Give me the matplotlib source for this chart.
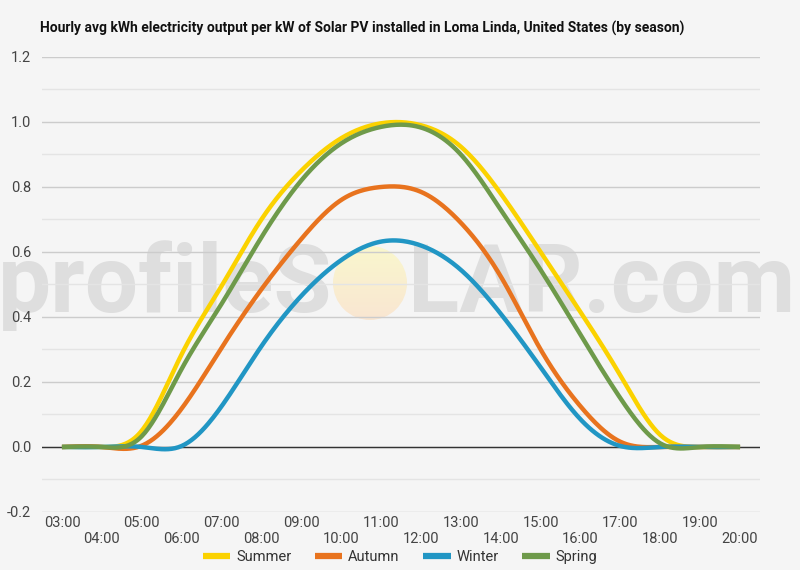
import numpy as np
import matplotlib
matplotlib.use('Agg')
import matplotlib.pyplot as plt
from matplotlib.patches import Circle

hours = ['03:00', '04:00', '05:00', '06:00', '07:00', '08:00', '09:00', '10:00', '11:00',
         '12:00', '13:00', '14:00', '15:00', '16:00', '17:00', '18:00', '19:00', '20:00']

summer = [0.0, 0.0, 0.05, 0.285, 0.495, 0.70, 0.85, 0.95, 0.996,
          0.99, 0.924, 0.78, 0.60, 0.415, 0.22, 0.037, 0.0, 0.0]
autumn = [0.0, 0.0, 0.004, 0.118, 0.305, 0.485, 0.64, 0.76, 0.80,
          0.785, 0.69, 0.525, 0.30, 0.125, 0.016, 0.0, 0.0, 0.0]
winter = [0.0, 0.0, 0.0, 0.003, 0.125, 0.31, 0.465, 0.575, 0.632,
          0.62, 0.545, 0.41, 0.245, 0.085, 0.003, 0.0, 0.0, 0.0]
spring = [0.0, 0.0, 0.033, 0.24, 0.44, 0.645, 0.82, 0.934, 0.985,
          0.983, 0.90, 0.73, 0.545, 0.345, 0.15, 0.011, 0.0, 0.0]

series = [('Summer', summer, '#fbd200'),
          ('Autumn', autumn, '#e8731e'),
          ('Winter', winter, '#2196c4'),
          ('Spring', spring, '#6e9a4a')]


def smooth(y, n=24):
    # natural cubic spline through the hourly points (the original uses a smoothed curve)
    y = np.asarray(y, dtype=float)
    k = len(y)
    A = np.zeros((k, k))
    b = np.zeros(k)
    A[0, 0] = A[-1, -1] = 1
    for i in range(1, k - 1):
        A[i, i - 1], A[i, i], A[i, i + 1] = 1, 4, 1
        b[i] = 6 * (y[i + 1] - 2 * y[i] + y[i - 1])
    M = np.linalg.solve(A, b)
    xs, ys = [], []
    t = np.linspace(0, 1, n, endpoint=False)
    for i in range(k - 1):
        seg = ((1 - t) * y[i] + t * y[i + 1]
               + ((1 - t) ** 3 - (1 - t)) * M[i] / 6 + (t ** 3 - t) * M[i + 1] / 6)
        xs.append(i + t)
        ys.append(seg)
    xs.append([k - 1])
    ys.append([y[-1]])
    return np.concatenate(xs), np.concatenate(ys)


plt.rcParams['font.family'] = ['Roboto', 'DejaVu Sans']

fig = plt.figure(figsize=(8, 5.7), dpi=100, facecolor='#f5f5f5')
ax = fig.add_axes([0.0525, 0.1018, 0.8975, 0.7982])
ax.set_facecolor('none')

# watermark
fig.text(332 / 800, 1 - 312 / 570, 'profileS', fontsize=68, fontweight='bold',
         color='#dedede', ha='right', va='baseline', zorder=0)
fig.text(408 / 800, 1 - 312 / 570, 'LAR.com', fontsize=68, fontweight='bold',
         color='#dedede', ha='left', va='baseline', zorder=0)
grad = np.linspace(0, 1, 100)[:, None]
sun_ax = fig.add_axes([333 / 800, 1 - 320 / 570, 74 / 800, 74 / 570])
sun_ax.set_axis_off()
sun_ax.set_facecolor('none')
img = np.zeros((100, 1, 3))
top = np.array([250, 247, 205]) / 255
bot = np.array([249, 230, 210]) / 255
img[:, 0, :] = top * (1 - grad) + bot * grad
im = sun_ax.imshow(img, extent=[0, 1, 0, 1], aspect='auto', origin='upper')
circ = Circle((0.5, 0.5), 0.5, transform=sun_ax.transData)
im.set_clip_path(circ)
sun_ax.set_xlim(0, 1)
sun_ax.set_ylim(0, 1)
sun_ax.set_zorder(0)
ax.set_zorder(1)

x = np.arange(len(hours))
for name, vals, color in series:
    sx, sy = smooth(vals)
    ax.plot(sx, sy, color=color, lw=3.2, label=name, solid_capstyle='butt', zorder=3)

ax.set_xlim(-0.5, len(hours) - 0.5)
ax.set_ylim(-0.2, 1.2)
ax.set_yticks(np.arange(-0.2, 1.21, 0.2))
ax.set_yticklabels([f'{v:.1f}' for v in np.arange(-0.2, 1.21, 0.2)])
ax.set_yticks(np.arange(-0.1, 1.2, 0.2), minor=True)
ax.grid(True, which='major', axis='y', color='#cccccc', lw=1)
ax.grid(True, which='minor', axis='y', color='#e4e4e4', lw=1)
ax.axhline(0, color='#333333', lw=1, zorder=2)
ax.set_axisbelow(True)

ax.set_xticks(x)
ax.set_xticklabels([h if i % 2 == 0 else '\n' + h for i, h in enumerate(hours)])
ax.tick_params(axis='both', which='both', length=0, labelsize=10.5, colors='#444444')
ax.tick_params(axis='x', pad=3)
ax.tick_params(axis='y', pad=8)
for s in ax.spines.values():
    s.set_visible(False)

fig.text(40 / 800, 1 - 28 / 570, 'Hourly avg kWh electricity output per kW of Solar PV installed in Loma Linda, United States (by season)',
         fontsize=10, fontweight='bold', color='#111111', ha='left', va='center')

fig.legend(loc='center', bbox_to_anchor=(0.5, 1 - 557 / 570), ncol=4, frameon=False,
           fontsize=10.5, handlelength=1.9, handletextpad=0.4, columnspacing=1.6,
           labelcolor='#333333')
for line in fig.legends[0].get_lines():
    line.set_linewidth(4.5)

fig.savefig('out.png', dpi=100, facecolor=fig.get_facecolor())
